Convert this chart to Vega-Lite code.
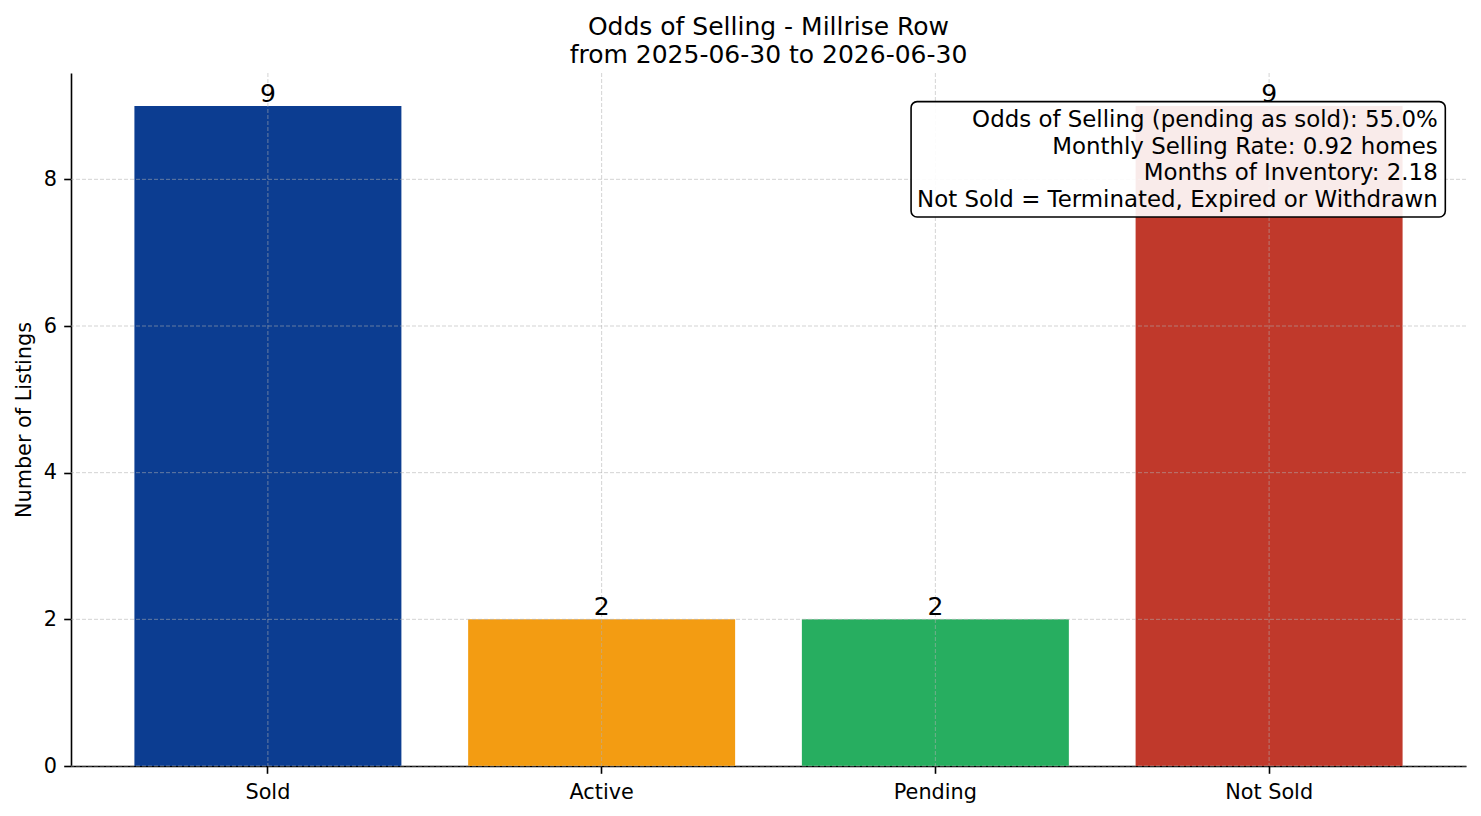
{
  "$schema": "https://vega.github.io/schema/vega-lite/v6.json",
  "width": 1395,
  "height": 693,
  "autosize": {"type": "none"},
  "padding": {"left": 71, "top": 73, "right": 15, "bottom": 50},
  "background": "white",
  "config": {
    "font": "DejaVu Sans",
    "view": {"stroke": null},
    "axis": {
      "domainColor": "#000000",
      "domainWidth": 1.6,
      "tickColor": "#000000",
      "tickWidth": 1.6,
      "tickSize": 7.3,
      "labelColor": "#000000",
      "labelFont": "DejaVu Sans",
      "labelFontSize": 20.8,
      "titleFont": "DejaVu Sans",
      "titleFontSize": 20.8,
      "titleFontWeight": "normal",
      "titleColor": "#000000",
      "grid": false
    }
  },
  "title": {
    "text": ["Odds of Selling - Millrise Row", "from 2025-06-30 to 2026-06-30"],
    "font": "DejaVu Sans",
    "fontSize": 25,
    "fontWeight": "normal",
    "color": "#000000",
    "anchor": "middle",
    "baseline": "alphabetic",
    "lineHeight": 28,
    "offset": -15
  },
  "datasets": {
    "counts": [
      {"status": "Sold", "count": 9},
      {"status": "Active", "count": 2},
      {"status": "Pending", "count": 2},
      {"status": "Not Sold", "count": 9}
    ],
    "ygrid": [{"tick": 0}, {"tick": 2}, {"tick": 4}, {"tick": 6}, {"tick": 8}],
    "note": [
      {"lines": ["Odds of Selling (pending as sold): 55.0%", "Monthly Selling Rate: 0.92 homes", "Months of Inventory: 2.18", "Not Sold = Terminated, Expired or Withdrawn"]}
    ]
  },
  "layer": [
    {
      "data": {"name": "counts"},
      "mark": {"type": "bar"},
      "encoding": {
        "x": {
          "field": "status",
          "type": "nominal",
          "sort": null,
          "scale": {"domain": ["Sold", "Active", "Pending", "Not Sold"], "paddingInner": 0.2, "paddingOuter": 0.19},
          "axis": {"title": null, "labelAngle": 0, "labelPadding": 9.5, "bandPosition": 0.5, "labelBaseline": "top"}
        },
        "y": {
          "field": "count",
          "type": "quantitative",
          "scale": {"domain": [0, 9.45], "nice": false, "zero": true},
          "axis": {"title": "Number of Listings", "values": [0, 2, 4, 6, 8], "format": "d", "labelPadding": 7.3, "titleX": -40.5, "titleBaseline": "alphabetic", "titleAngle": -90}
        },
        "color": {
          "field": "status",
          "type": "nominal",
          "scale": {"domain": ["Sold", "Active", "Pending", "Not Sold"], "range": ["#0c3d91", "#f39c12", "#27ae60", "#c0392b"]},
          "legend": null
        }
      }
    },
    {
      "data": {"name": "counts"},
      "mark": {"type": "rule", "color": "#b0b0b0", "strokeOpacity": 0.55, "strokeWidth": 1, "strokeDash": [4, 2]},
      "encoding": {
        "x": {"field": "status", "type": "nominal", "sort": null}
      }
    },
    {
      "data": {"name": "ygrid"},
      "mark": {"type": "rule", "color": "#b0b0b0", "strokeOpacity": 0.55, "strokeWidth": 1, "strokeDash": [4, 2]},
      "encoding": {
        "y": {"field": "tick", "type": "quantitative"}
      }
    },
    {
      "data": {"name": "counts"},
      "mark": {"type": "text", "baseline": "alphabetic", "dy": -4.5, "fontSize": 25, "color": "#000000", "font": "DejaVu Sans"},
      "encoding": {
        "x": {"field": "status", "type": "nominal", "sort": null},
        "y": {"field": "count", "type": "quantitative"},
        "text": {"field": "count", "type": "quantitative"}
      }
    },
    {
      "data": {"name": "note"},
      "mark": {"type": "rect", "fill": "#ffffff", "fillOpacity": 0.9, "stroke": "#000000", "strokeWidth": 1.6, "cornerRadius": 6},
      "encoding": {
        "x": {"datum": "Not Sold", "type": "nominal", "bandPosition": -0.841},
        "x2": {"datum": "Not Sold", "bandPosition": 1.16},
        "y": {"datum": 9.059, "type": "quantitative"},
        "y2": {"datum": 7.486}
      }
    },
    {
      "data": {"name": "note"},
      "mark": {"type": "text", "align": "right", "baseline": "top", "fontSize": 22.9, "lineHeight": 26.5, "color": "#000000", "font": "DejaVu Sans"},
      "encoding": {
        "x": {"datum": "Not Sold", "type": "nominal", "bandPosition": 1.1315},
        "y": {"datum": 8.956, "type": "quantitative"},
        "text": {"field": "lines"}
      }
    }
  ]
}
